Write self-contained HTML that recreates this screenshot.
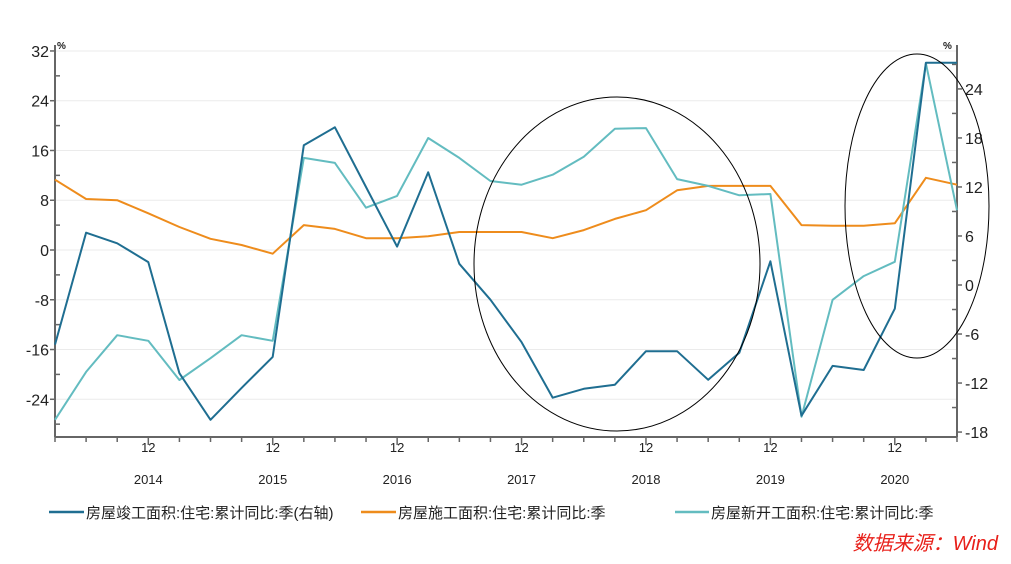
<!DOCTYPE html>
<html><head><meta charset="utf-8"><style>
body{margin:0;background:#fff;}
svg text{font-family:"Liberation Sans","Noto Sans CJK SC",sans-serif;}
</style></head><body>
<svg width="1011" height="559" viewBox="0 0 1011 559">
<g id="grid"></g>
<g id="axes"></g>
<g id="series"></g>
<ellipse cx="617" cy="264" rx="143" ry="167" fill="none" stroke="#000" stroke-width="1"/>
<ellipse cx="917" cy="206" rx="72" ry="152" fill="none" stroke="#000" stroke-width="1"/>
<g>
<line x1="49" y1="512" x2="84" y2="512" stroke="#1f6e91" stroke-width="2.5"/>
<text x="86" y="518" font-size="15" fill="#222">房屋竣工面积:住宅:累计同比:季(右轴)</text>
<line x1="361" y1="512" x2="396" y2="512" stroke="#ee8c1c" stroke-width="2.5"/>
<text x="398" y="518" font-size="15" fill="#222">房屋施工面积:住宅:累计同比:季</text>
<line x1="675" y1="512" x2="709" y2="512" stroke="#63bcc0" stroke-width="2.5"/>
<text x="711" y="518" font-size="15" fill="#222">房屋新开工面积:住宅:累计同比:季</text>
</g>
<text x="998" y="550" font-size="20" fill="#e8201a" font-style="italic" text-anchor="end">数据来源：Wind</text>
</svg>
<script>
const completion=[-7.3,6.4,5.1,2.8,-10.8,-16.5,-12.6,-8.8,17.1,19.3,12,4.7,13.8,2.6,-1.8,-7,-13.8,-12.7,-12.2,-8.1,-8.1,-11.6,-8.3,2.9,-16,-9.9,-10.4,-2.9,27.2,27.2];
const construction=[11.3,8.2,8,5.9,3.7,1.8,0.8,-0.6,4,3.4,1.9,1.9,2.2,2.9,2.9,2.9,1.9,3.2,5,6.4,9.6,10.3,10.3,10.3,4,3.9,3.9,4.3,11.6,10.5];
const newStarts=[-27.3,-19.6,-13.7,-14.6,-20.9,-17.4,-13.7,-14.6,14.8,14,6.8,8.7,18,14.8,11.1,10.5,12.1,15,19.5,19.6,11.4,10.3,8.8,9,-26.8,-8,-4.2,-1.9,30,6.4];
const leftTicks=[-24,-16,-8,0,8,16,24,32];
const rightTicks=[-18,-12,-6,0,6,12,18,24];
const yearLabels=["2014","2015","2016","2017","2018","2019","2020"];
const NS="http://www.w3.org/2000/svg";
const X0=55,X1=957,N=30,step=(X1-X0)/(N-1);
const xs=i=>X0+i*step;
const yL=v=>250-6.22*v;
const yR=v=>285-8.17*v;
function mk(t,a,p){const e=document.createElementNS(NS,t);for(const k in a)e.setAttribute(k,a[k]);p.appendChild(e);return e;}
const grid=document.getElementById('grid'),axes=document.getElementById('axes'),ser=document.getElementById('series');
leftTicks.forEach(v=>{
 const g=mk('line',{x1:X0,x2:X1,y1:yL(v),y2:yL(v),stroke:'#ebebeb','stroke-width':1},grid);
 
 
 const t=mk('text',{x:X0-6,y:yL(v)+6,'font-size':16,'text-anchor':'end',fill:'#222'},axes);t.textContent=v;
 
 
 mk('line',{x1:X0-5,x2:X0,y1:yL(v),y2:yL(v),stroke:'#666','stroke-width':1.5},axes);
 mk('line',{x1:X0,x2:X0+5,y1:yL(v-4),y2:yL(v-4),stroke:'#666','stroke-width':1.5},axes);
});
rightTicks.forEach(v=>{
 const t=mk('text',{x:X1+8,y:yR(v)+6,'font-size':16,fill:'#222'},axes);t.textContent=v;
 
 
 mk('line',{x1:X1,x2:X1+5,y1:yR(v),y2:yR(v),stroke:'#666','stroke-width':1.5},axes);
 mk('line',{x1:X1-5,x2:X1,y1:yR(v+3),y2:yR(v+3),stroke:'#666','stroke-width':1.5},axes);
});
mk('line',{x1:X0,x2:X0,y1:45,y2:437,stroke:'#666','stroke-width':2},axes);
mk('line',{x1:X1,x2:X1,y1:45,y2:437,stroke:'#666','stroke-width':2},axes);
mk('line',{x1:X0,x2:X1,y1:437,y2:437,stroke:'#666','stroke-width':2},axes);
let p=mk('text',{x:X0+2,y:49,'font-size':10,fill:'#222','font-weight':'bold'},axes);p.textContent='%';
p=mk('text',{x:X1-14,y:49,'font-size':10,fill:'#222','font-weight':'bold'},axes);p.textContent='%';
for(let i=0;i<N;i++){
 const major=(i%4)===3;
 mk('line',{x1:xs(i),x2:xs(i),y1:437,y2:major?445:442,stroke:'#666','stroke-width':1.5},axes);
}
yearLabels.forEach((y,k)=>{
 const x=xs(3+4*k);
 let t=mk('text',{x:x,y:452,'font-size':13,'text-anchor':'middle',fill:'#222'},axes);t.textContent='12';
 
 
 t=mk('text',{x:x,y:484,'font-size':13,'text-anchor':'middle',fill:'#222'},axes);t.textContent=y;
 
 
});
function line(d,yf,c,name){
 const pts=d.map((v,i)=>xs(i).toFixed(1)+','+yf(v).toFixed(1)).join(' ');
 const l=mk('polyline',{points:pts,fill:'none',stroke:c,'stroke-width':2,'stroke-linejoin':'round'},ser);
 
 
}
line(construction,yL,'#ee8c1c','construction-line');
line(newStarts,yL,'#63bcc0','new-starts-line');
line(completion,yR,'#1f6e91','completion-line');
</script>
</body></html>
